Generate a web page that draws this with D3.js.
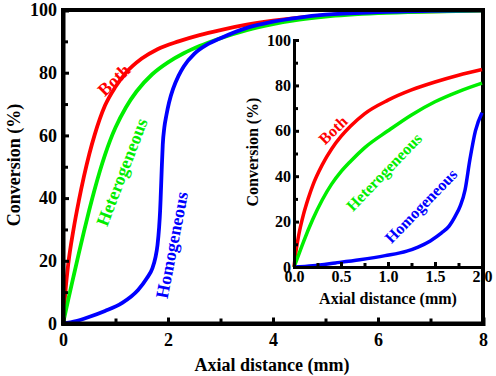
<!DOCTYPE html>
<html>
<head>
<meta charset="utf-8">
<script src="https://cdn.jsdelivr.net/npm/d3@7"></script>
<style>
  body { margin: 0; background: #fff; }
  text { font-family: "Liberation Serif", "Times New Roman", serif; font-weight: bold; }
</style>
</head>
<body>
<svg id="chart" width="496" height="376"></svg>
<script>
// main plot data (axial distance mm, conversion %)
const bothX = [0, 0.05, 0.1, 0.2, 0.3, 0.4, 0.5, 0.6, 0.8, 1.0, 1.2, 1.5, 1.8, 2.2, 2.6, 3.0, 3.5, 4.0, 4.5, 5, 6, 7, 8];
const bothY = [0, 11, 19, 30, 39, 47, 54, 60, 69.5, 75.5, 80, 84.5, 87.5, 90, 92, 93.6, 95.3, 96.6, 97.6, 98.3, 99.2, 99.6, 99.8];

const heteroX = [0, 0.1, 0.2, 0.3, 0.4, 0.5, 0.6, 0.7, 0.8, 0.9, 1.0, 1.2, 1.4, 1.7, 2.0, 2.3, 2.6, 3.0, 3.5, 4.0, 4.5, 5, 6, 7, 8];
const heteroY = [0, 7.6, 15, 22.3, 29.4, 36.2, 42.6, 48.5, 53.8, 58.5, 62.5, 69, 74, 79.5, 83.3, 86.2, 88.5, 91, 93.6, 95.5, 96.9, 97.9, 99, 99.5, 99.8];

const homoX = [0, 0.25, 0.48, 0.8, 1.12, 1.43, 1.6, 1.7, 1.76, 1.8, 1.83, 1.85, 1.86, 1.88, 1.9, 1.93, 1.97, 2.02, 2.1, 2.2, 2.3, 2.5, 2.75, 3.0, 3.5, 4.0, 4.5, 5, 6, 7, 8];
const homoY = [0, 0.8, 2, 4, 6.5, 10.7, 14.5, 17.5, 21, 25, 30.5, 36, 40, 49, 57, 62.5, 66.5, 70.5, 75, 79, 82, 86, 89, 91, 94.3, 96.3, 97.6, 98.5, 99.3, 99.7, 99.9];

// inset data (0 - 2 mm)
const insetBothX = [0, 0.025, 0.05, 0.1, 0.15, 0.2, 0.3, 0.4, 0.5, 0.6, 0.75, 1.0, 1.25, 1.5, 1.75, 2.0];
const insetBothY = [0, 8, 14, 23, 30, 36, 45, 52, 57.5, 62, 67.5, 73.5, 78, 81.5, 84.5, 87];

const insetHeteroX = [0, 0.05, 0.1, 0.2, 0.3, 0.4, 0.5, 0.6, 0.75, 1.0, 1.25, 1.5, 1.75, 2.0];
const insetHeteroY = [0, 5.5, 11, 21, 29.5, 36.5, 42, 46.5, 52.5, 60, 67, 72.8, 77.3, 81];

const insetHomoX = [0, 0.2, 0.44, 0.7, 0.97, 1.2, 1.32, 1.45, 1.57, 1.65, 1.71, 1.77, 1.82, 1.87, 1.93, 2.0];
const insetHomoY = [0, 0.6, 1.8, 3.2, 5, 7, 8.8, 11.5, 15, 18, 22, 27, 34, 47, 60, 68];

const mainXTicks = [0, 2, 4, 6, 8];
const mainXMinor = [1, 3, 5, 7];
const mainYTicks = [0, 20, 40, 60, 80, 100];
const mainYMinor = [10, 30, 50, 70, 90];
const insetXTicks = [0, 0.5, 1.0, 1.5, 2.0];
const insetXMinor = [0.25, 0.75, 1.25, 1.75];
const insetYTicks = [0, 20, 40, 60, 80, 100];
const insetYMinor = [10, 30, 50, 70, 90];

const colors = {both: "#ff0000", hetero: "#00ee00", homo: "#0000ff"};

const svg = d3.select("#chart");

const xMain = d3.scaleLinear().domain([0, 8]).range([63, 483]);
const yMain = d3.scaleLinear().domain([0, 100]).range([323.5, 10]);
const xIn = d3.scaleLinear().domain([0, 2]).range([294, 482]);
const yIn = d3.scaleLinear().domain([0, 100]).range([267, 40]);

function zip(xs, ys) { return xs.map((x, i) => [x, ys[i]]); }

function drawLine(xs, ys, sx, sy, color, w) {
  const line = d3.line()
    .x(d => sx(d[0]))
    .y(d => sy(d[1]))
    .curve(d3.curveMonotoneX);
  svg.append("path")
    .datum(zip(xs, ys))
    .attr("fill", "none")
    .attr("stroke", color)
    .attr("stroke-width", w)
    .attr("stroke-linejoin", "round")
    .attr("d", line);
}

function styleAxis(g, w, fs) {
  g.select(".domain").attr("stroke-width", w);
  g.selectAll(".tick line").attr("stroke-width", 3);
  g.selectAll(".tick text").attr("font-size", fs).attr("fill", "#000")
    .style("font-family", "'Liberation Serif', 'Times New Roman', serif").style("font-weight", "bold");
}

// curves, main
drawLine(bothX, bothY, xMain, yMain, colors.both, 3.8);
drawLine(heteroX, heteroY, xMain, yMain, colors.hetero, 3.8);
drawLine(homoX, homoY, xMain, yMain, colors.homo, 3.8);

// main frame
svg.append("rect")
  .attr("x", xMain(0)).attr("y", yMain(100))
  .attr("width", xMain(8) - xMain(0)).attr("height", yMain(0) - yMain(100))
  .attr("fill", "none").attr("stroke", "#000").attr("stroke-width", 4);

// main axes
svg.append("g").attr("transform", `translate(0,${yMain(0)})`)
  .call(d3.axisBottom(xMain).tickValues(mainXMinor).tickSize(-5).tickFormat(""))
  .call(g => { styleAxis(g, 4, 18); g.select(".domain").remove(); });
svg.append("g").attr("transform", `translate(0,${yMain(0)})`)
  .call(d3.axisBottom(xMain).tickValues(mainXTicks).tickSize(-6).tickPadding(10).tickFormat(d3.format("d")))
  .call(g => styleAxis(g, 4, 18));
svg.append("g").attr("transform", `translate(${xMain(0)},0)`)
  .call(d3.axisLeft(yMain).tickValues(mainYMinor).tickSize(-5).tickFormat(""))
  .call(g => { styleAxis(g, 4, 18); g.select(".domain").remove(); });
svg.append("g").attr("transform", `translate(${xMain(0)},0)`)
  .call(d3.axisLeft(yMain).tickValues(mainYTicks).tickSize(-6).tickPadding(6).tickFormat(d3.format("d")))
  .call(g => styleAxis(g, 4, 18));

// inset curves
drawLine(insetBothX, insetBothY, xIn, yIn, colors.both, 3.5);
drawLine(insetHeteroX, insetHeteroY, xIn, yIn, colors.hetero, 3.5);
drawLine(insetHomoX, insetHomoY, xIn, yIn, colors.homo, 3.5);

// inset axes
svg.append("g").attr("transform", `translate(0,${yIn(0)})`)
  .call(d3.axisBottom(xIn).tickValues(insetXMinor).tickSize(-4).tickFormat(""))
  .call(g => { styleAxis(g, 3, 16); g.select(".domain").remove(); });
svg.append("g").attr("transform", `translate(0,${yIn(0)})`)
  .call(d3.axisBottom(xIn).tickValues(insetXTicks).tickSize(-5).tickPadding(4).tickFormat(d3.format(".1f")))
  .call(g => styleAxis(g, 3, 16));
svg.append("g").attr("transform", `translate(${xIn(0)},0)`)
  .call(d3.axisLeft(yIn).tickValues(insetYMinor).tickSize(-4).tickFormat(""))
  .call(g => { styleAxis(g, 3, 16); g.select(".domain").remove(); });
svg.append("g").attr("transform", `translate(${xIn(0)},0)`)
  .call(d3.axisLeft(yIn).tickValues(insetYTicks).tickSize(-5).tickPadding(3).tickFormat(d3.format("d")))
  .call(g => styleAxis(g, 3, 16));

// axis titles
svg.append("text").attr("x", 272).attr("y", 371).attr("text-anchor", "middle")
  .attr("font-size", 18).text("Axial distance (mm)");
svg.append("text").attr("transform", "translate(20,165) rotate(-90)").attr("text-anchor", "middle")
  .attr("font-size", 18).text("Conversion (%)");
svg.append("text").attr("x", 388).attr("y", 304).attr("text-anchor", "middle")
  .attr("font-size", 16).text("Axial distance (mm)");
svg.append("text").attr("transform", "translate(258,152) rotate(-90)").attr("text-anchor", "middle")
  .attr("font-size", 16).text("Conversion (%)");

// curve labels
const labels = [
  {t: "Both", x: 114, y: 80, a: -44, c: colors.both, s: 18},
  {t: "Heterogeneous", x: 122, y: 172, a: -69, c: colors.hetero, s: 18},
  {t: "Homogeneous", x: 172, y: 245, a: -79, c: colors.homo, s: 18},
  {t: "Both", x: 333, y: 130, a: -44, c: colors.both, s: 16},
  {t: "Heterogeneous", x: 384, y: 172, a: -46, c: colors.hetero, s: 16},
  {t: "Homogeneous", x: 421, y: 206, a: -46, c: colors.homo, s: 16}
];
svg.selectAll("text.lbl").data(labels).join("text")
  .attr("class", "lbl")
  .attr("transform", d => `translate(${d.x},${d.y}) rotate(${d.a})`)
  .attr("text-anchor", "middle").attr("dominant-baseline", "central")
  .attr("font-size", d => d.s).attr("fill", d => d.c)
  .text(d => d.t);
</script>
</body>
</html>
